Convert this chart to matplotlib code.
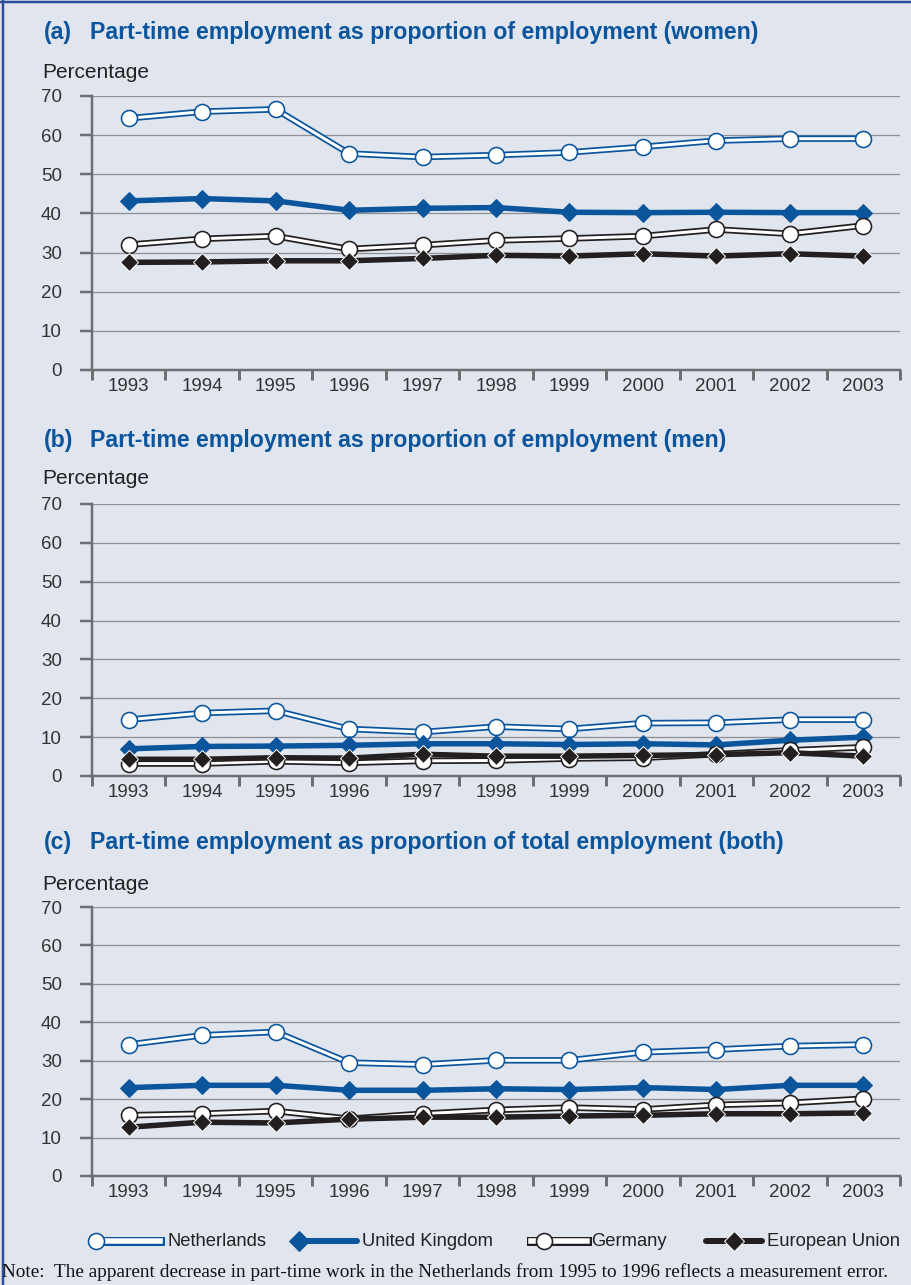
import matplotlib.pyplot as plt

plt.rcParams["font.family"] = ["Liberation Sans", "DejaVu Sans"]

BG = "#E1E5EE"
BLUE = "#0B559D"
DARK = "#231F20"
GRID = "#8E9095"
AXIS = "#6D6E71"
PT = 0.72  # points per pixel at dpi 100

YEARS = ["1993", "1994", "1995", "1996", "1997", "1998",
         "1999", "2000", "2001", "2002", "2003"]
SERIES = ["Netherlands", "United Kingdom", "Germany", "European Union"]

WOMEN_NL = [64.3, 66.0, 66.6, 55.3, 54.4, 54.9, 55.6, 57.0, 58.6, 59.1, 59.1]
WOMEN_UK = [43.2, 43.8, 43.2, 40.8, 41.3, 41.5, 40.3, 40.2, 40.3, 40.2, 40.2]
WOMEN_DE = [32.0, 33.5, 34.2, 30.9, 31.9, 33.1, 33.6, 34.2, 35.9, 34.8, 36.9]
WOMEN_EU = [27.5, 27.6, 27.9, 27.9, 28.5, 29.3, 29.1, 29.7, 29.1, 29.7, 29.1]

MEN_NL = [14.5, 16.2, 16.8, 12.1, 11.3, 12.7, 12.1, 13.6, 13.7, 14.5, 14.5]
MEN_UK = [7.0, 7.6, 7.7, 7.9, 8.3, 8.3, 8.1, 8.3, 8.0, 9.2, 10.0]
MEN_DE = [3.2, 3.2, 3.8, 3.4, 3.9, 4.0, 4.5, 4.7, 5.6, 6.6, 7.4]
MEN_EU = [4.3, 4.3, 4.7, 4.6, 5.6, 5.1, 5.1, 5.3, 5.5, 6.0, 5.1]

BOTH_NL = [34.2, 36.6, 37.5, 29.5, 29.0, 30.1, 30.1, 32.2, 32.9, 33.8, 34.2]
BOTH_UK = [23.0, 23.6, 23.6, 22.3, 22.3, 22.7, 22.5, 23.0, 22.5, 23.6, 23.6]
BOTH_DE = [15.8, 16.2, 16.9, 14.9, 16.2, 17.2, 17.8, 17.3, 18.5, 19.0, 20.1]
BOTH_EU = [12.7, 14.0, 13.8, 14.8, 15.3, 15.3, 15.6, 15.8, 16.2, 16.2, 16.4]

PANELS = [
    ("(a)", "Part-time employment as proportion of employment (women)",
     [WOMEN_NL, WOMEN_UK, WOMEN_DE, WOMEN_EU]),
    ("(b)", "Part-time employment as proportion of employment (men)",
     [MEN_NL, MEN_UK, MEN_DE, MEN_EU]),
    ("(c)", "Part-time employment as proportion of total employment (both)",
     [BOTH_NL, BOTH_UK, BOTH_DE, BOTH_EU]),
]

# pixel layout: (title y, "Percentage" y, y of 70 line, y of 0 line)
LAYOUT = [(32, 73, 96, 370), (440, 479, 504, 776), (843, 884, 907, 1176)]
AX_LEFT, AX_RIGHT = 92, 900
W, H = 912, 1285

STYLES = {
    "Netherlands": dict(kind="hollow", color=BLUE, marker="o"),
    "United Kingdom": dict(kind="solid", color=BLUE, marker="D", edge=BLUE),
    "Germany": dict(kind="hollow", color=DARK, marker="o"),
    "European Union": dict(kind="solid", color=DARK, marker="D", edge="white"),
}


def draw_series(ax, x, y, style, outer=6.5, inner=3.0):
    if style["kind"] == "hollow":
        ax.plot(x, y, color=style["color"], lw=outer * PT,
                solid_capstyle="butt", clip_on=False, zorder=3)
        ax.plot(x, y, color="white", lw=inner * PT,
                solid_capstyle="butt", clip_on=False, zorder=3)
        ax.plot(x, y, ls="none", marker="o", ms=16 * PT, mfc="white",
                mec=style["color"], mew=1.6 * PT, clip_on=False, zorder=4)
    else:
        ax.plot(x, y, color=style["color"], lw=5.5 * PT,
                solid_capstyle="butt", clip_on=False, zorder=3)
        ax.plot(x, y, ls="none", marker="D", ms=13 * PT, mfc=style["color"],
                mec=style["edge"], mew=1.0 * PT, clip_on=False, zorder=4)


def setup_axes(ax):
    ax.set_facecolor("none")
    ax.set_xlim(-0.5, len(YEARS) - 0.5)
    ax.set_ylim(0, 70)
    for side in ("top", "right"):
        ax.spines[side].set_visible(False)
    for side in ("left", "bottom"):
        ax.spines[side].set_color(AXIS)
        ax.spines[side].set_linewidth(2.5 * PT)
    ax.set_yticks(range(0, 71, 10))
    ax.tick_params(axis="y", length=12 * PT, width=2.5 * PT, color=AXIS,
                   labelsize=13.5, labelcolor="#333333", pad=13)
    ax.set_xticks([i - 0.5 for i in range(len(YEARS) + 1)])
    ax.set_xticklabels([])
    ax.set_xticks(range(len(YEARS)), minor=True)
    ax.set_xticklabels(YEARS, minor=True)
    ax.tick_params(axis="x", which="major", length=10 * PT, width=3 * PT,
                   color=AXIS)
    ax.tick_params(axis="x", which="minor", length=0, labelsize=13.5,
                   labelcolor="#333333", pad=6)
    ax.yaxis.grid(True, color=GRID, lw=1.3 * PT)
    ax.set_axisbelow(True)


fig = plt.figure(figsize=(W / 100, H / 100), dpi=100, facecolor=BG)
ov = fig.add_axes([0, 0, 1, 1])
ov.set_xlim(0, W)
ov.set_ylim(H, 0)
ov.axis("off")

x = list(range(len(YEARS)))
for (tag, title, data), (ty, py, top, bottom) in zip(PANELS, LAYOUT):
    ax = fig.add_axes([AX_LEFT / W, 1 - bottom / H,
                       (AX_RIGHT - AX_LEFT) / W, (bottom - top) / H])
    setup_axes(ax)
    for name, values in zip(SERIES, data):
        draw_series(ax, x, values, STYLES[name])
    ov.text(44, ty, tag, color=BLUE, fontsize=16.7, fontweight="bold",
            va="center")
    ov.text(90, ty, title, color=BLUE, fontsize=16.7, fontweight="bold",
            va="center")
    ov.text(42, py, "Percentage", color="#222222", fontsize=15, va="center")

# legend, drawn by hand so the marker sits at the line end as in the original
LEG_Y = 1241
LEGEND = [
    ("Netherlands", (96, 160), 96, 168),
    ("United Kingdom", (299, 357), 299, 362),
    ("Germany", (531, 587), 544, 591),
    ("European Union", (706, 762), 734, 767),
]
for name, (x0, x1), mx, tx in LEGEND:
    st = STYLES[name]
    if st["kind"] == "hollow":
        ov.plot([x0, x1], [LEG_Y, LEG_Y], color=st["color"], lw=9 * PT,
                solid_capstyle="projecting")
        ov.plot([x0, x1], [LEG_Y, LEG_Y], color="white", lw=5.5 * PT,
                solid_capstyle="projecting")
        ov.plot([mx], [LEG_Y], marker="o", ms=16 * PT, mfc="white",
                mec=st["color"], mew=1.6 * PT)
    else:
        ov.plot([x0, x1], [LEG_Y, LEG_Y], color=st["color"], lw=6 * PT,
                solid_capstyle="round")
        ov.plot([mx], [LEG_Y], marker="D", ms=14 * PT, mfc=st["color"],
                mec=st["edge"], mew=1.0 * PT)
    ov.text(tx, LEG_Y, name, fontsize=13.2, color="#222222", va="center")

ov.text(2, 1272, "Note:  The apparent decrease in part-time work in the "
        "Netherlands from 1995 to 1996 reflects a measurement error.",
        family=["Liberation Serif", "DejaVu Serif"], fontsize=13.9,
        color="#111111", va="center")

# frame on the left and top edges
ov.plot([3, 3], [0, H], color="#2C4E9B", lw=2.5 * PT, clip_on=False)
ov.plot([0, W], [2, 2], color="#2C4E9B", lw=2.5 * PT, clip_on=False)

fig.savefig("out.png", dpi=100, facecolor=BG)
